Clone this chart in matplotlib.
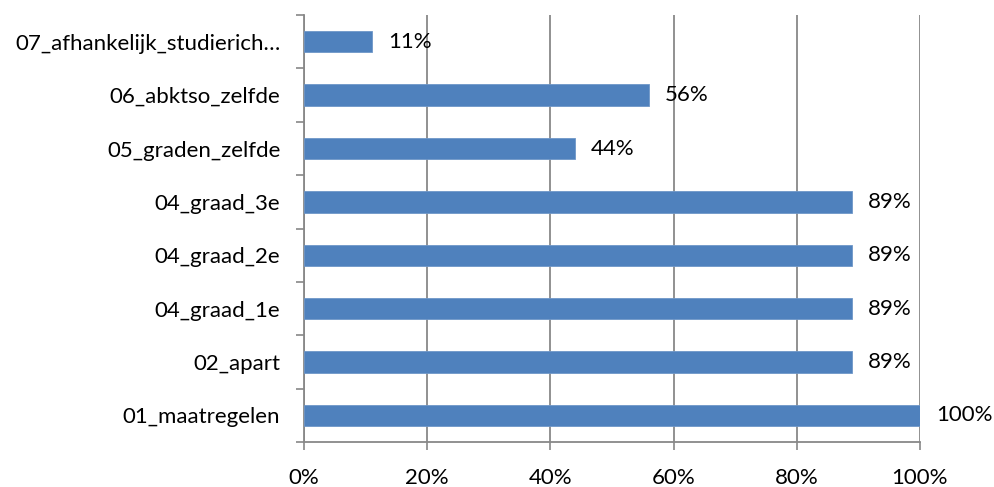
import matplotlib.pyplot as plt
import numpy as np

categories = ["01_maatregelen", "02_apart", "04_graad_1e", "04_graad_2e",
              "04_graad_3e", "05_graden_zelfde", "06_abktso_zelfde",
              "07_afhankelijk_studierich\u2026"]
values = [100, 89, 89, 89, 89, 44, 56, 11]
xticks = [0, 20, 40, 60, 80, 100]

plt.rcParams['font.family'] = ['Lato', 'DejaVu Sans']

fig = plt.figure(figsize=(9.95, 4.87), dpi=100)
ax = fig.add_axes([0.3055, 0.0924, 0.619, 0.8766])

y = np.arange(len(categories))
ax.barh(y, values, height=0.4, color='#4F81BD', edgecolor='#6F97C8',
        linewidth=0.6, zorder=3)
for yi, v in zip(y, values):
    ax.text(v + 2.6, yi, "{}%".format(v), va='center', ha='left', fontsize=16)

ax.set_xlim(0, 100)
ax.set_ylim(-0.5, len(categories) - 0.5)
ax.set_xticks(xticks)
ax.set_xticklabels(["{}%".format(t) for t in xticks], fontsize=16)
ax.set_yticks(y)
ax.set_yticklabels(categories, fontsize=16)
ax.set_yticks(np.arange(-0.5, len(categories)), minor=True)
ax.tick_params(axis='y', which='major', length=0, pad=17)
ax.tick_params(axis='y', which='minor', length=6, color='#888888', width=1.2)
ax.tick_params(axis='x', length=6, color='#888888', width=1.2, pad=13)

ax.grid(axis='x', color='#888888', linewidth=1.3, zorder=0)
ax.set_axisbelow(True)
for s in ['top', 'right']:
    ax.spines[s].set_visible(False)
for s in ['left', 'bottom']:
    ax.spines[s].set_color('#888888')
    ax.spines[s].set_linewidth(1.3)

fig.savefig("out.png", dpi=100)
